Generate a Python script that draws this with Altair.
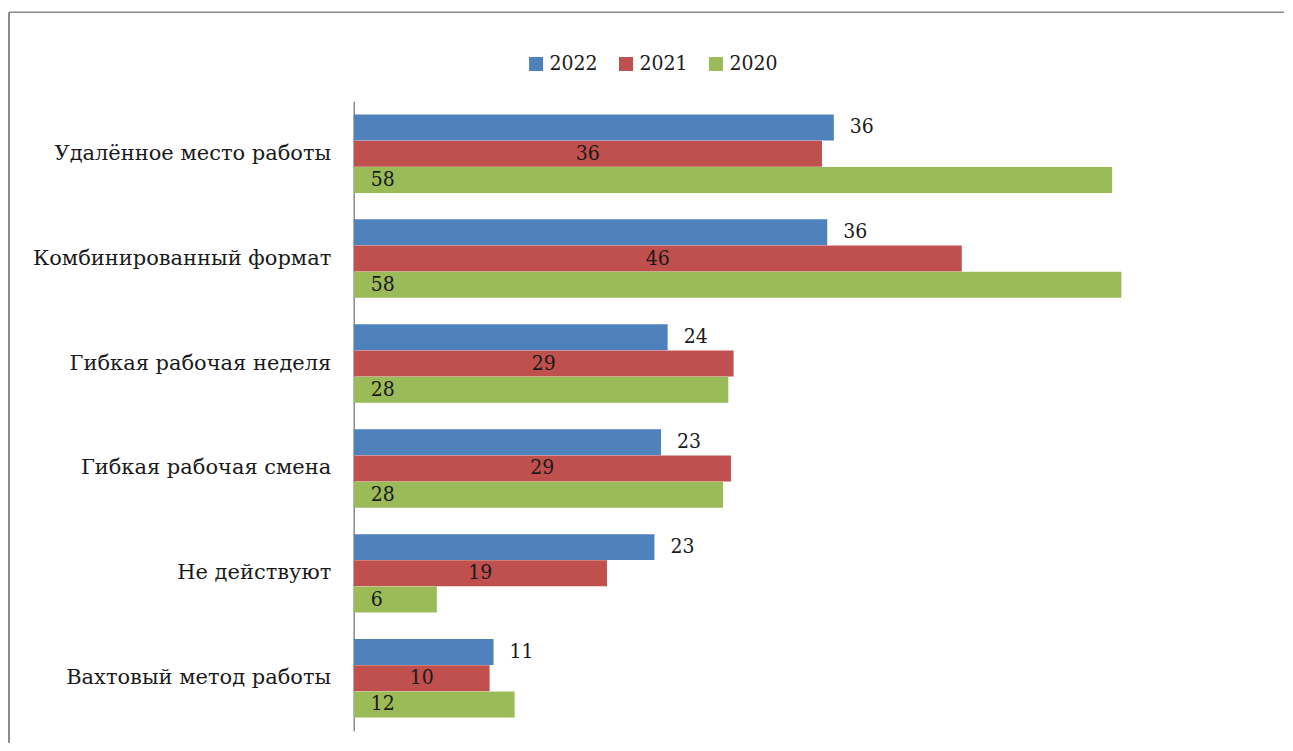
import altair as alt
import pandas as pd

categories = ["Удалённое место работы", "Комбинированный формат", "Гибкая рабочая неделя",
              "Гибкая рабочая смена", "Не действуют", "Вахтовый метод работы"]
years = ["2022", "2021", "2020"]
v2022 = [36.4, 35.9, 23.8, 23.3, 22.8, 10.6]
v2021 = [35.5, 46.1, 28.8, 28.6, 19.2, 10.3]
v2020 = [57.5, 58.2, 28.4, 28.0, 6.3, 12.2]
colors = ["#4F81BD", "#C0504D", "#9BBB59"]

rows = []
for yr, vals in zip(years, [v2022, v2021, v2020]):
    for c, v in zip(categories, vals):
        rows.append({"cat": c, "year": yr, "value": v})
df = pd.DataFrame(rows)

FONT = "DejaVu Serif"
NFONT = "DejaVu Serif Condensed"
W, H = 924, 630

y_enc = alt.Y("cat:N", sort=categories,
              scale=alt.Scale(paddingInner=0.25, paddingOuter=0.125),
              axis=alt.Axis(title=None, labelFont=FONT, labelFontSize=21, labelColor="#1a1a1a",
                            labelPadding=23, ticks=False, domainColor="#8c8c8c",
                            domainWidth=1.5, labelLimit=400))
yoff = alt.YOffset("year:N", sort=years, scale=alt.Scale(paddingInner=0, paddingOuter=0))
x_scale = alt.Scale(domain=[0, 70])

bars = alt.Chart(df).mark_bar(size=26).encode(
    x=alt.X("value:Q", scale=x_scale, axis=None),
    y=y_enc,
    yOffset=yoff,
    color=alt.Color("year:N", sort=years,
                    scale=alt.Scale(domain=years, range=colors),
                    legend=alt.Legend(title=None, orient="none", direction="horizontal",
                                      legendX=172, legendY=-48, symbolType="square",
                                      symbolSize=196, symbolStrokeWidth=0,
                                      labelFont=NFONT, labelFontSize=21, labelColor="#1a1a1a",
                                      labelOffset=3, columnPadding=17)),
)

txt_base = dict(font=NFONT, fontSize=21, color="#1a1a1a", baseline="middle")

lab22 = alt.Chart(df).transform_filter(alt.datum.year == "2022").mark_text(
    align="left", dx=16, **txt_base).encode(
    x=alt.X("value:Q", scale=x_scale), y=alt.Y("cat:N", sort=categories), yOffset=yoff,
    text=alt.Text("value:Q", format=".0f"))

lab21 = alt.Chart(df).transform_filter(alt.datum.year == "2021").transform_calculate(
    half="datum.value / 2").mark_text(align="center", **txt_base).encode(
    x=alt.X("half:Q", scale=x_scale), y=alt.Y("cat:N", sort=categories), yOffset=yoff,
    text=alt.Text("value:Q", format=".0f"))

lab20 = alt.Chart(df).transform_filter(alt.datum.year == "2020").transform_calculate(
    zero="0").mark_text(align="left", dx=17, **txt_base).encode(
    x=alt.X("zero:Q", scale=x_scale), y=alt.Y("cat:N", sort=categories), yOffset=yoff,
    text=alt.Text("value:Q", format=".0f"))

frame_df = pd.DataFrame({"a": [0]})
frame_left = alt.Chart(frame_df).mark_rule(color="#8c8c8c", strokeWidth=2).encode(
    x=alt.value(-345), y=alt.value(-89), y2=alt.value(642))
frame_top = alt.Chart(frame_df).mark_rule(color="#8c8c8c", strokeWidth=1.5).encode(
    x=alt.value(-345), x2=alt.value(931), y=alt.value(-89))

chart = alt.layer(bars, lab22, lab21, lab20, frame_left, frame_top).properties(
    width=W, height=H, background="white",
    padding={"left": 0, "top": 3, "right": 0, "bottom": 0},
).configure_view(strokeWidth=0)

chart.save("out.html", embed_options={"renderer": "svg", "actions": False})
